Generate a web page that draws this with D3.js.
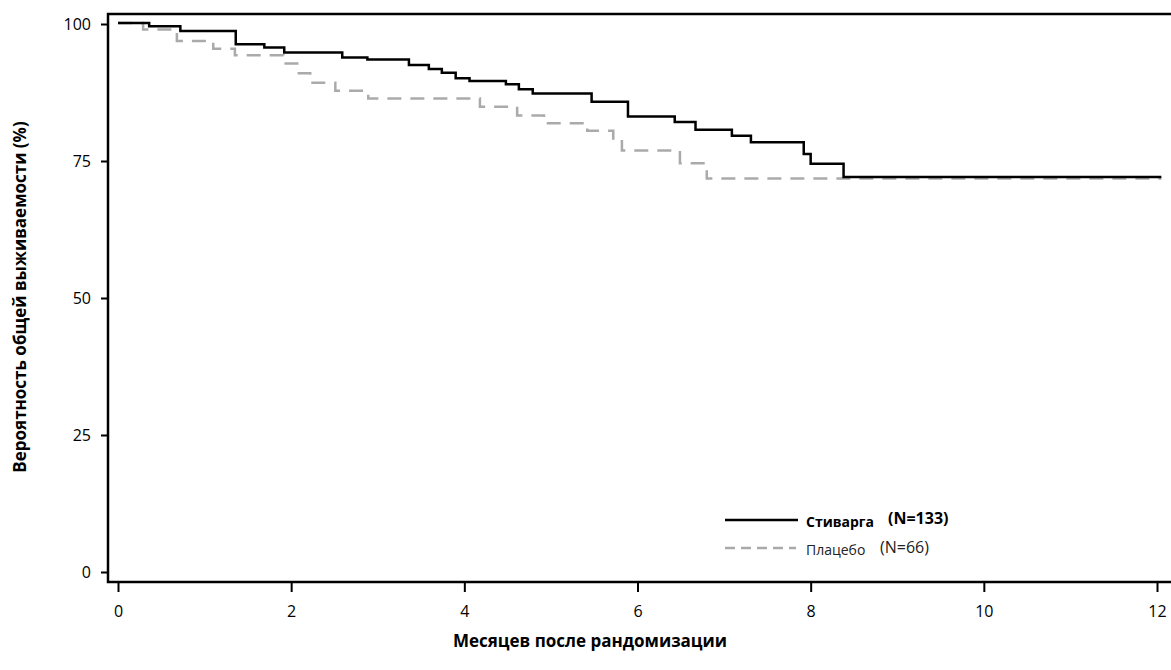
<!DOCTYPE html>
<html><head><meta charset="utf-8">
<script src="https://cdn.jsdelivr.net/npm/d3@7"></script>
<style>body{margin:0;background:#fff}text{font-family:"Open Sans","DejaVu Sans",sans-serif}</style>
</head><body>
<script>
const width = 1171, height = 670;

const stivargaMonths = [0, 0.36, 0.72, 1.36, 1.69, 1.92, 2.59, 2.88, 3.36, 3.59, 3.74, 3.90, 4.06, 4.48, 4.63, 4.79, 5.47, 5.89, 6.43, 6.67, 7.09, 7.31, 7.92, 8.00, 8.38, 12.05];
const stivargaSurv = [100.2, 99.6, 98.7, 96.3, 95.7, 94.8, 93.9, 93.5, 92.5, 91.8, 91.1, 90.1, 89.6, 89.0, 88.1, 87.3, 85.8, 83.1, 82.1, 80.7, 79.6, 78.4, 76.3, 74.5, 72.1, 72.1];
const placeboMonths = [0, 0.29, 0.68, 1.10, 1.35, 1.91, 2.07, 2.22, 2.51, 2.89, 4.18, 4.61, 4.92, 5.42, 5.72, 5.82, 6.49, 6.80, 12.05];
const placeboSurv = [100.2, 99.0, 96.9, 95.5, 94.3, 92.8, 91.0, 89.3, 87.8, 86.4, 84.9, 83.3, 81.9, 80.5, 78.6, 76.9, 74.6, 71.8, 71.8];
const xTicks = [0, 2, 4, 6, 8, 10, 12];
const yTicks = [0, 25, 50, 75, 100];

const svg = d3.select("body").append("svg").attr("width", width).attr("height", height);

const x = d3.scaleLinear().domain([0, 12]).range([118, 1157]);
const y = d3.scaleLinear().domain([0, 100]).range([572, 24]);

// frame
svg.append("rect").attr("x", 108).attr("y", 14).attr("width", 1070).attr("height", 568)
    .attr("fill", "none").attr("stroke", "#000").attr("stroke-width", 2.5);

const xAxis = svg.append("g").attr("transform", "translate(0,582)")
    .call(d3.axisBottom(x).tickValues(xTicks).tickSize(10).tickPadding(14));
const yAxis = svg.append("g").attr("transform", "translate(108,0)")
    .call(d3.axisLeft(y).tickValues(yTicks).tickSize(7).tickPadding(10));
[xAxis, yAxis].forEach(g => {
    g.select(".domain").remove();
    g.selectAll("line").attr("stroke-width", 2);
    g.selectAll("text").attr("font-size", 16).attr("fill", "#000")
        .style("font-family", "'Open Sans','DejaVu Sans',sans-serif");
});

const line = d3.line().x(d => x(d[0])).y(d => y(d[1])).curve(d3.curveStepAfter);

svg.append("path").datum(d3.zip(placeboMonths, placeboSurv)).attr("d", line)
    .attr("fill", "none").attr("stroke", "#aaa").attr("stroke-width", 2.5).attr("stroke-dasharray", "14,9");
svg.append("path").datum(d3.zip(stivargaMonths, stivargaSurv)).attr("d", line)
    .attr("fill", "none").attr("stroke", "#000").attr("stroke-width", 2.5);

// legend
svg.append("line").attr("x1", 725).attr("x2", 798).attr("y1", 520).attr("y2", 520)
    .attr("stroke", "#000").attr("stroke-width", 2.5);
svg.append("line").attr("x1", 725).attr("x2", 796).attr("y1", 548).attr("y2", 548)
    .attr("stroke", "#aaa").attr("stroke-width", 2.5).attr("stroke-dasharray", "10,6");
svg.append("text").attr("x", 806).attr("y", 527).attr("font-size", 14).attr("font-weight", "bold").text("Стиварга");
svg.append("text").attr("x", 888).attr("y", 524).attr("font-size", 16).attr("font-weight", "bold").text("(N=133)");
svg.append("text").attr("x", 806).attr("y", 555).attr("font-size", 14).attr("fill", "#222").text("Плацебо");
svg.append("text").attr("x", 880).attr("y", 553).attr("font-size", 16).attr("fill", "#222").text("(N=66)");

svg.append("text").attr("x", 590).attr("y", 647).attr("text-anchor", "middle")
    .attr("font-size", 17).attr("font-weight", "bold").text("Месяцев после рандомизации");
svg.append("text").attr("transform", "translate(26,297) rotate(-90)").attr("text-anchor", "middle")
    .attr("font-size", 17).attr("font-weight", "bold").text("Вероятность общей выживаемости (%)");
</script>
</body></html>
